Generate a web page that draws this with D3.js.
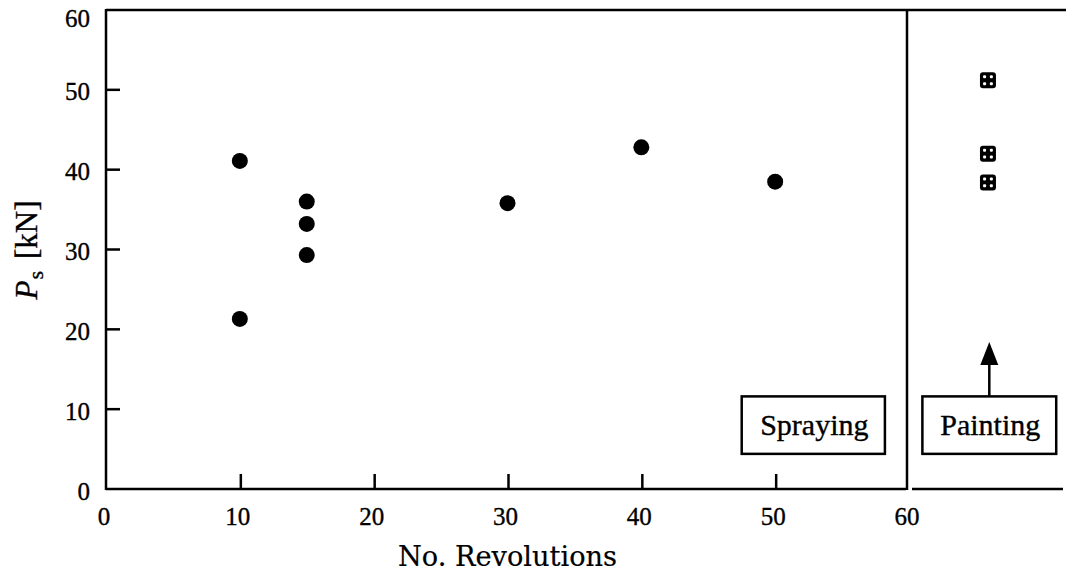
<!DOCTYPE html>
<html>
<head>
<meta charset="utf-8">
<script src="https://cdn.jsdelivr.net/npm/d3@7/dist/d3.min.js"></script>
<style>
  html, body { margin: 0; padding: 0; background: #fff; }
  svg { display: block; }
  text { stroke: #000; stroke-width: 0.35px; }
</style>
</head>
<body>
<svg id="chart" width="1066" height="576"></svg>
<script>
// Spraying tests: number of revolutions vs. pull-off force
const sprayRevs  = [10, 10, 15, 15, 15, 30, 40, 50];
const sprayForce = [41.1, 21.3, 36.0, 33.2, 29.3, 35.8, 42.8, 38.5];

// Painted specimens (plotted beyond the revolution scale)
const paintPos   = [65.9, 65.9, 65.9];
const paintForce = [51.2, 42.0, 38.4];

const xTicks = [0, 10, 20, 30, 40, 50, 60];
const yTicks = [0, 10, 20, 30, 40, 50, 60];
const xTitle = "No. Revolutions";
const labels = ["Spraying", "Painting"];

const svg = d3.select("#chart");

const x = d3.scaleLinear().domain([0, 60]).range([106, 909]);
const y = d3.scaleLinear().domain([0, 60]).range([489, 10]);
const xEnd = 1066;

const ink = "#000";
const serif = "'Liberation Serif', 'Times New Roman', serif";
const lw = 2.5;

// Frame: top, left, bottom and the divider at 60 revolutions
svg.append("line").attr("x1", x(0)).attr("x2", xEnd).attr("y1", y(60)).attr("y2", y(60))
  .attr("stroke", ink).attr("stroke-width", lw);
svg.append("line").attr("x1", x(0)).attr("x2", x(0)).attr("y1", y(60) - 1).attr("y2", y(0) + 1)
  .attr("stroke", ink).attr("stroke-width", lw);
svg.append("line").attr("x1", x(0)).attr("x2", x(60) - 3).attr("y1", y(0)).attr("y2", y(0))
  .attr("stroke", ink).attr("stroke-width", lw);
svg.append("line").attr("x1", x(60) + 3).attr("x2", 1063).attr("y1", y(0)).attr("y2", y(0))
  .attr("stroke", ink).attr("stroke-width", lw);
svg.append("line").attr("x1", x(60) - 2).attr("x2", x(60) - 2).attr("y1", y(60) - 1).attr("y2", y(0) + 1)
  .attr("stroke", ink).attr("stroke-width", lw);

// Inward ticks
svg.selectAll(".ytick").data(yTicks.filter(v => v > 0 && v < 60)).join("line")
  .attr("x1", x(0)).attr("x2", x(0) + 14)
  .attr("y1", d => y(d)).attr("y2", d => y(d))
  .attr("stroke", ink).attr("stroke-width", lw);
svg.selectAll(".xtick").data(xTicks.filter(v => v > 0 && v < 60)).join("line")
  .attr("x1", d => x(d) + 1).attr("x2", d => x(d) + 1)
  .attr("y1", y(0)).attr("y2", y(0) - 15)
  .attr("stroke", ink).attr("stroke-width", lw);

// Tick labels
svg.selectAll(".ylab").data(yTicks).join("text")
  .attr("x", 90)
  .attr("y", d => Math.max(y(d) + 2, 18.5))
  .attr("dy", "0.34em")
  .attr("text-anchor", "end")
  .attr("font-family", serif).attr("font-size", 25)
  .attr("fill", ink)
  .text(d => d);
svg.selectAll(".xlab").data(xTicks).join("text")
  .attr("x", d => x(d) - 2)
  .attr("y", 525)
  .attr("text-anchor", "middle")
  .attr("font-family", serif).attr("font-size", 25)
  .attr("fill", ink)
  .text(d => d);

// Axis titles
svg.append("text")
  .attr("x", 507.5).attr("y", 566)
  .attr("text-anchor", "middle")
  .attr("font-family", "'DejaVu Serif', serif").attr("font-size", 27)
  .attr("textLength", 219).attr("lengthAdjust", "spacingAndGlyphs")
  .attr("fill", ink)
  .style("stroke-width", "0.2px")
  .text(xTitle);

const yt = svg.append("text")
  .attr("transform", "translate(37,250) rotate(-90)")
  .attr("text-anchor", "middle")
  .attr("font-family", serif).attr("font-size", 31)
  .attr("fill", ink);
yt.append("tspan").attr("font-style", "italic").text("P");
yt.append("tspan").attr("font-size", 22).attr("dy", 6).attr("dx", 1).text("s");
yt.append("tspan").attr("dy", -6).attr("dx", 12).text("[kN]");

// Spraying data points
svg.selectAll(".dot").data(sprayRevs.map((r, i) => ({ r, f: sprayForce[i] }))).join("circle")
  .attr("cx", d => x(d.r)).attr("cy", d => y(d.f)).attr("r", 8)
  .attr("fill", ink);

// Painting data points: filled square with four white pips
const sq = svg.selectAll(".sq").data(paintPos.map((p, i) => ({ p, f: paintForce[i] }))).join("g")
  .attr("transform", d => `translate(${x(d.p)},${y(d.f)})`);
sq.append("rect").attr("x", -8).attr("y", -8).attr("width", 16).attr("height", 16)
  .attr("rx", 3).attr("fill", ink);
[[-1, -1], [1, -1], [-1, 1], [1, 1]].forEach(([sx, sy]) => {
  sq.append("rect")
    .attr("x", sx * 3.4 - 1.5).attr("y", sy * 3.4 - 1.5)
    .attr("width", 3).attr("height", 3).attr("rx", 1)
    .attr("fill", "#fff");
});

// Labelled boxes for the two methods
const boxes = [
  { text: labels[0], x0: 47.5, x1: 58.2 },
  { text: labels[1], x0: 61.0, x1: 71.0 }
];
const by0 = 11.6, by1 = 4.4;
boxes.forEach(b => {
  svg.append("rect")
    .attr("x", x(b.x0)).attr("y", y(by0))
    .attr("width", x(b.x1) - x(b.x0)).attr("height", y(by1) - y(by0))
    .attr("fill", "#fff").attr("stroke", ink).attr("stroke-width", lw);
  svg.append("text")
    .attr("x", (x(b.x0) + x(b.x1)) / 2 + 1).attr("y", 435)
    .attr("text-anchor", "middle")
    .attr("font-family", serif).attr("font-size", 30)
    .attr("fill", ink)
    .text(b.text);
});

// Arrow from the Painting box up toward its points
const ax = (x(boxes[1].x0) + x(boxes[1].x1)) / 2;
svg.append("line")
  .attr("x1", ax).attr("x2", ax).attr("y1", y(by0)).attr("y2", 364)
  .attr("stroke", ink).attr("stroke-width", lw);
svg.append("path")
  .attr("d", `M${ax},342 L${ax - 9},365 L${ax + 9},365 Z`)
  .attr("fill", ink);
</script>
</body>
</html>
